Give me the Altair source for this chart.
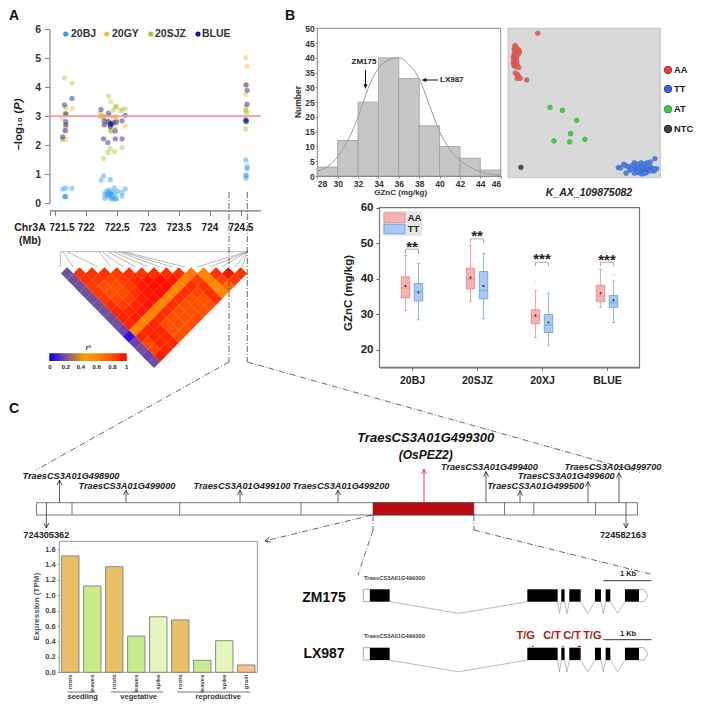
import altair as alt
import pandas as pd

W, H = 686, 693
FONT = "Liberation Sans"

# ---------- panel A values ----------
bj = [(721.62,.49),(721.67,.52),(721.77,.51),(721.65,.23),(721.67,.23),(721.66,.23),(722.24,.8),(722.28,.94),(722.39,.81),
      (722.30,.17),(722.32,.4),(722.36,.46),(722.38,.29),(722.41,.4),(722.45,.52),(722.43,.23),(722.47,.34),(722.49,.15),
      (722.51,.42),(722.34,.31),(722.30,.31),(722.58,.25),(722.58,.37),(722.63,.5),(722.40,.17),(722.47,.17),(722.35,.23),(722.43,.14),
      (722.37,.36),(722.39,.34),(722.41,.3),(724.58,1.49),(724.60,1.26),(724.60,1.19),(724.58,.97),(724.58,.86),(724.59,.95)]
gy = [(721.61,2.92),(721.77,3.26),(721.67,2.64),(721.67,2.52),(721.67,2.2),(721.62,2.2),(721.66,3.1),
      (722.40,3.5),(722.23,3.1),(722.28,2.98),(722.33,2.92),(722.63,2.66),(722.55,3.2),(722.47,2.64),(722.41,2.52),(722.39,3.03),
      (722.31,2.73),(722.49,2.87),(722.25,3.04),(722.36,2.8),(722.44,2.95),
      (724.58,5.01),(724.60,4.71),(724.58,3.75),(724.60,4.07),(724.58,3.33),(724.58,3.2)]
sjz = [(721.65,4.32),(721.77,4.14),(721.67,3.29),(721.62,2.2),(721.67,3.04),(722.36,3.69),(722.47,3.33),(722.49,3.33),(722.44,3.21),
       (722.63,3.26),(722.58,3.21),(722.39,1.89),(722.35,1.75),(722.46,1.78),(722.58,1.92),(722.28,1.54),(722.39,2.52),(722.41,2.46),
       (722.28,2.98),(722.23,2.98),(722.47,2.98),(724.58,3.21),(724.59,3.12),(724.58,2.56),(724.58,2.87)]
blue = [(721.77,3.61),(721.65,3.39),(721.67,3.08),(721.67,2.81),(721.67,2.7),(721.66,2.5),(721.62,2.29),(722.24,3.23),(722.36,3.10),
        (722.63,3.03),(722.29,2.84),(722.29,2.7),(722.36,2.81),(722.39,2.75),(722.41,2.73),(722.44,2.78),(722.49,2.79),(722.39,2.64),
        (722.58,2.84),(722.47,2.49),(722.28,2.22),(722.35,2.09),(722.47,2.22),(722.58,2.22),(722.39,2.7),(724.58,4.08),(724.60,3.89),
        (724.60,3.41),(724.58,2.87),(724.58,2.81),(724.59,2.84)]
ld_rows = [
    [.2,.2,.2,.2,.2,.2,.2,.2,.2,.16,.02,.15,.2,.15,.2],
    [.92,.92,.9,.88,.9,.93,.95,.95,.95,.62,.95,.85,.85,.97],
    [.92,.9,.82,.82,.84,.9,.95,.97,.62,.95,.95,.95,.95],
    [.92,.85,.82,.84,.88,.95,.97,.62,.95,.95,.95,.95],
    [.9,.9,.9,.92,.97,.98,.62,.93,.8,.8,.8],
    [.92,.95,.97,.98,.98,.62,.93,.8,.8,.8],
    [.92,.98,.99,.99,.62,.93,.8,.82,.82],
    [.93,.99,.99,.62,.93,.82,.82,.82],
    [.93,.98,.62,.93,.82,.8,.8],
    [.93,.65,.93,.85,.8,.8],
    [.68,.88,.92,.93,.93],
    [.62,.62,.58,.6],
    [.92,.85,.72],
    [.98,.9],
    [.92],
]
# ---------- panel B values ----------
hist_edges = [28,30,32,34,36,38,40,42,44,46]
hist_counts = [3,12,25,40,33,17,10,6,2]
curve_x = [28,29,30,31,32,33,34,35,36,37,38,39,40,41,42,43,44,45,46]
curve_y = [1.7,3.2,6.5,12,20,29.7,36.5,39.3,40,37.7,33,24,15,9,5.4,3,1.5,.7,.3]
aa = [(.046,.885),(.05,.875),(.04,.865),(.055,.87),(.048,.855),(.07,.855),(.075,.845),(.044,.85),(.055,.84),(.065,.835),(.072,.832),
      (.04,.825),(.05,.82),(.06,.815),(.035,.805),(.045,.8),(.055,.795),(.038,.79),(.048,.78),(.058,.775),(.034,.77),(.044,.76),
      (.054,.755),(.04,.75),(.05,.745),(.062,.75),(.07,.737),(.048,.7),(.062,.69),(.06,.665),(.068,.68),(.08,.665),(.123,.654),(.195,.967)]
at = [(.276,.471),(.357,.451),(.451,.384),(.411,.295),(.505,.257),(.302,.246),(.405,.239)]
ntc = [(.085,.069)]
tt = [(.724,.068),(.74,.065),(.76,.09),(.775,.08),(.79,.075),(.8,.05),(.81,.06),(.82,.085),(.83,.1),(.835,.07),(.84,.045),(.85,.06),
      (.855,.09),(.86,.035),(.865,.05),(.87,.07),(.875,.1),(.88,.04),(.885,.055),(.89,.03),(.895,.08),(.9,.065),(.905,.045),(.91,.035),
      (.915,.1),(.92,.06),(.93,.05),(.94,.07),(.95,.055),(.96,.045),(.976,.06),(.965,.127),(.775,.03),(.83,.03),(.85,.04),(.87,.03),
      (.88,.025),(.9,.03),(.86,.06),(.88,.07),(.9,.09),(.92,.08),(.935,.105),(.94,.045),(.96,.06)]
# group, low, q1, median, q3, high, mean
box_aa = [(-.1,31,34.6,37.3,40.5,46.5,37.9),(.9,33.6,37.1,39.8,42.9,49.4,40.3),(1.9,23.4,27.3,29.2,31.2,36.6,29.6),(2.9,31.9,33.5,35.1,38.1,42.6,35.9)]
box_tt = [(.1,28.4,33.7,36.4,38.6,44.3,36.1),(1.1,28.7,34.3,36.7,42,47,37.9),(2.1,21.1,24.8,26.9,29.9,35.9,27.6),(3.1,27.6,31.9,33.2,35.2,39.3,33.9)]
out_aa = [(1.9,42.6),(1.9,39.2)]
out_tt = [(3.1,41.1)]
brackets = [(-.1,.1,48.3,47,"**",49),(.9,1.1,51.2,50.1,"**",52),(1.9,2.1,44.6,43.5,"***",45.4),(2.9,3.1,44.6,43.5,"***",45.1)]
# ---------- panel C values ----------
expr = [1.51,1.12,1.37,.47,.72,.68,.155,.41,.095]
tissues = ["roots","leaves","roots","leaves","spike","roots","leaves","spike","grain"]
tissue_colors = {"roots":"#e9bf68","leaves":"#c8ec8c","spike":"#e4f6bd","grain":"#f7c08c"}
exons = [(.139,.549),(3.417,4.049),(4.125,4.194),(4.292,4.528),(4.826,4.951),(5.049,5.146),(5.451,5.743)]
introns = [(.549,3.417),(4.049,4.125),(4.194,4.292),(4.528,4.826),(4.951,5.049),(5.146,5.451)]
gene_dividers = [72,179.7,301,504.5,533.8,595.5]
up_genes = [("TraesCS3A01G498900",59.5,480,71,476),("TraesCS3A01G499000",126,490,127,485.7),("TraesCS3A01G499100",240,490,242,485.7),
            ("TraesCS3A01G499200",338,490,341,485.7),("TraesCS3A01G499400",486,471.7,489.4,466.7),("TraesCS3A01G499500",520,490.7,535.6,485.7),
            ("TraesCS3A01G499600",588,481.7,566.2,476),("TraesCS3A01G499700",619,472.7,613,466.7)]

# ---------- scales (figure pixels to plot range) ----------
def S(d, r):
    return alt.Scale(domain=d, range=r, nice=False, zero=False)
FX = S([0,702],[-8,694]); FY = S([0,709],[-8,701])
AX = S([721.41,724.82],[41.7,252.7]); AY = S([0,6],[195.3,21])
LX = S([0,14],[59.2,232.8]); LY = S([0,14],[265.5,353.7])
HX = S([28,46],[309.3,492.7]); HY = S([0,50],[168,20.3])
GX = S([0,1],[500,652.3]); GY = S([0,1],[169.7,20.3])
BX = S([-.5,3.5],[371.5,631.5]); BY = S([15,60],[359.3,199.6])
EX = S([-.5,8.5],[51.3,249.3]); EY = S([0,1.7],[664.3,533.3])
KX = S([0,6],[355.3,643.3])

layers = []
def seg(rows, X=FX, Y=FY, **mk):
    df = pd.DataFrame(rows, columns=["a","b","c","d"])
    layers.append(alt.Chart(df).mark_rule(**mk).encode(
        x=alt.X("a:Q",scale=X,axis=None), x2="c:Q", y=alt.Y("b:Q",scale=Y,axis=None), y2="d:Q"))
def box(rows, X=FX, Y=FY, **mk):
    df = pd.DataFrame(rows, columns=["a","b","c","d"])
    layers.append(alt.Chart(df).mark_rect(**mk).encode(
        x=alt.X("a:Q",scale=X,axis=None), x2="c:Q", y=alt.Y("b:Q",scale=Y,axis=None), y2="d:Q"))
def pts(rows, X=FX, Y=FY, **mk):
    df = pd.DataFrame(rows, columns=["a","b"])
    layers.append(alt.Chart(df).mark_point(**mk).encode(
        x=alt.X("a:Q",scale=X,axis=None), y=alt.Y("b:Q",scale=Y,axis=None)))
def txt(rows, X=FX, Y=FY, size=9, weight="bold", color="#222", align="center", angle=None, style="normal", font=FONT):
    df = pd.DataFrame(rows, columns=["a","b","t"])
    kw = dict(fontSize=size, fontWeight=weight, color=color, align=align, baseline="middle", fontStyle=style, font=font)
    if angle is not None:
        kw["angle"] = angle
    layers.append(alt.Chart(df).mark_text(**kw).encode(
        x=alt.X("a:Q",scale=X,axis=None), y=alt.Y("b:Q",scale=Y,axis=None), text="t:N"))
def xaxis(values, scale, ypx, **ax):
    opts = dict(title=None, orient="bottom", offset=(ypx-8)-H, values=values, grid=False, labelFont=FONT, labelFontWeight="bold")
    opts.update(ax)
    layers.append(alt.Chart(pd.DataFrame({"v":values})).mark_point(opacity=0).encode(
        x=alt.X("v:Q",scale=scale,axis=alt.Axis(**opts)), y=alt.value(0)))
def yaxis(values, scale, xpx, **ax):
    opts = dict(title=None, orient="left", offset=-(xpx-8), values=values, grid=False, labelFont=FONT, labelFontWeight="bold")
    opts.update(ax)
    layers.append(alt.Chart(pd.DataFrame({"v":values})).mark_point(opacity=0).encode(
        y=alt.Y("v:Q",scale=scale,axis=alt.Axis(**opts)), x=alt.value(0)))

UP = "M-1,2L0,0L1,2"; DOWN = "M-1,-2L0,0L1,-2"
TRI_D = "M-1,-2.4L0,0L1,-2.4Z"; TRI_L = "M2.4,-1L0,0L2.4,1Z"
DASH = dict(color="#444", strokeWidth=.8, strokeDash=[6,2,1,2])

# ---------- panel letters ----------
txt([(9,16,"A")], size=14, align="left", color="#111")
txt([(285,16,"B")], size=14, align="left", color="#111")
txt([(9,409,"C")], size=14, align="left", color="#111")

# ---------- panel A ----------
yaxis([0,1,2,3,4,5,6], AY, 49.5, labelFontSize=10.5, labelColor="#333", tickSize=5, tickColor="#888", domainColor="#888", domainWidth=1.2, labelPadding=4)
xaxis([721.41,721.5,722,722.5,723,723.5,724,724.5], AX, 210.3, labels=False, tickSize=5, tickColor="#777", domainColor="#777", domainWidth=1.2)
for series, col in ((bj,"#2f9df4"),(gy,"#f5b93e"),(sjz,"#97cc3c"),(blue,"#15158a")):
    pts(series, AX, AY, filled=True, size=28, opacity=.45, color=col)
seg([(721.41,3,724.82,3)], AX, AY, color="#f29aa4", strokeWidth=1.6)
for x, c in ((65.7,"#2f9df4"),(106.7,"#f5b93e"),(150.7,"#97cc3c"),(198,"#15158a")):
    pts([(x,34)], filled=True, size=26, opacity=1, color=c)
txt([(71,34,"20BJ"),(112,34,"20GY"),(155,34,"20SJZ"),(202,34,"BLUE")], size=10.5, align="left", color="#333")
txt([(19,110,"\u2013log\u2081\u2080 (")], size=11.5, align="right", angle=270, color="#222")
txt([(19,110,"P)")], size=11.5, align="left", angle=270, color="#222", style="italic")
txt([(30,228,"Chr3A"),(30,241,"(Mb)")], size=10.5, color="#222")
txt([(721.61,-.85,"721.5"),(722,-.85,"722"),(722.5,-.85,"722.5"),(723,-.85,"723"),(723.5,-.85,"723.5"),(724,-.85,"724"),(724.5,-.85,"724.5")],
    AX, AY, size=10, color="#222")

# LD lines and heatmap
ld_top = [(60.3,60.3),(63,73),(67,98),(99,111),(102,123),(108,136),(113,148),(118,160),(121,173),(124,185),(247.3,197),(247.3,210),(247.3,222),(247.3,235),(247.3,242)]
seg([(60.3,251.7,247.3,251.7)]+[(a,251.7,b,267) for a,b in ld_top], color="#8a8a8a", strokeWidth=.6)
ld = []
for i, row in enumerate(ld_rows):
    for k, v in enumerate(row):
        ld.append({"m": i + k/2, "k": k, "r2": v})
layers.append(alt.Chart(pd.DataFrame(ld)).mark_point(shape="diamond", filled=True, size=160, opacity=1).encode(
    x=alt.X("m:Q",scale=LX,axis=None), y=alt.Y("k:Q",scale=LY,axis=None),
    color=alt.Color("r2:Q",legend=None,scale=alt.Scale(domain=[0,.2,.45,.6,.8,1],range=["#0000ff","#70509a","#f2a100","#ff8a00","#ff5200","#ff0000"]))))
box([(49.3,353.3,126.7,361)], color={"gradient":"linear","x1":0,"x2":1,"y1":0,"y2":0,"stops":[
    {"offset":0,"color":"#0000ff"},{"offset":.2,"color":"#70509a"},{"offset":.45,"color":"#f2a100"},{"offset":.6,"color":"#ff8a00"},{"offset":.8,"color":"#ff5200"},{"offset":1,"color":"#ff0000"}]})
txt([(50,367,"0"),(66,367,"0.2"),(81,367,"0.4"),(96.7,367,"0.6"),(112.3,367,"0.8"),(126.7,367,"1")], size=6, color="#222")
txt([(88.3,348,"r\u00b2")], size=7, style="italic", color="#222")

# connectors
seg([(229,192,229,362),(229,362,36,470),(247.3,192,247.3,362),(247.3,362,640,472.5)], **DASH)

# ---------- panel B histogram ----------
box([(28,50,46,0)], HX, HY, fill="white", stroke="#8a8a8a", strokeWidth=1)
box([(hist_edges[i],hist_counts[i],hist_edges[i+1],0) for i in range(9)], HX, HY, fill="#c6c6c6", stroke="#9c9c9c", strokeWidth=.8)
layers.append(alt.Chart(pd.DataFrame({"a":curve_x,"b":curve_y})).mark_line(color="#9a9a9a",strokeWidth=1,interpolate="monotone").encode(
    x=alt.X("a:Q",scale=HX,axis=None), y=alt.Y("b:Q",scale=HY,axis=None)))
yaxis(list(range(0,51,5)), HY, 317.3, labelFontSize=8.5, labelColor="#333", tickSize=2, tickColor="#777", domainColor="#777", labelPadding=1)
xaxis(hist_edges, HX, 176, labelFontSize=8.5, labelColor="#333", tickSize=2, tickColor="#777", domainColor="#777", labelPadding=1)
txt([(400.7,193,"GZnC (mg/kg)")], size=8, color="#333")
txt([(298,102,"Number")], size=8.5, angle=270, color="#333")
txt([(364,62,"ZM175")], size=8, color="#222")
txt([(440,80,"LX987")], size=8, align="left", color="#222")
seg([(365.5,70,365.5,86),(438,80,424,80)], color="#111", strokeWidth=1)
pts([(365.5,89)], shape=TRI_D, filled=True, size=16, color="#111", opacity=1)
pts([(421.5,80)], shape=TRI_L, filled=True, size=16, color="#111", opacity=1)

# ---------- panel B genotype cloud ----------
box([(0,1,1,0)], GX, GY, fill="#d9d9d9", stroke="#c4c4c4", strokeWidth=1)
for s, c, st in ((aa,"#e4625a","#c94b44"),(at,"#45c645","#2fa82f"),(ntc,"#4a4a4a","#333"),(tt,"#4f7fe6","#3660c8")):
    pts(s, GX, GY, filled=True, size=22, color=c, stroke=st, strokeWidth=.6, opacity=.95)
for y, c, st in ((70,"#e8413c","#b52a25"),(89,"#3b62e0","#2440a8"),(109.3,"#45c645","#2a9a2a"),(129,"#444","#222")):
    pts([(668,y)], filled=True, size=55, color=c, stroke=st, strokeWidth=1, opacity=1)
txt([(674,70,"AA"),(674,89,"TT"),(674,109.3,"AT"),(674,129,"NTC")], size=9.3, align="left", color="#222")
txt([(589,193,"K_AX_109875082")], size=10.5, style="italic", color="#222")

# ---------- panel B boxplots ----------
box([(-.5,60,3.5,15)], BX, BY, fill="white", stroke="#777", strokeWidth=1.2)
yaxis([20,30,40,50,60], BY, 380, labelFontSize=11.5, labelColor="#222", tickSize=4, tickColor="#666", domainColor="#666", domainWidth=1.4, labelPadding=3)
xaxis([0,1,2,3], BX, 367.3, labelFontSize=10.5, labelColor="#222", tickSize=3, tickColor="#666", domainColor="#666", domainWidth=1.4, labelPadding=5,
      labelExpr="['20BJ','20SJZ','20XJ','BLUE'][datum.value]")
txt([(349,293,"GZnC (mg/kg)")], size=11.5, angle=270, color="#222")
for rows, outs, fill, line in ((box_aa,out_aa,"#f6b3b6","#ee8d92"),(box_tt,out_tt,"#a9cbf2","#74a8e6")):
    seg([(r[0],r[1],r[0],r[2]) for r in rows]+[(r[0],r[4],r[0],r[5]) for r in rows], BX, BY, color=line, strokeWidth=.8)
    seg([(r[0]-.025,r[1],r[0]+.025,r[1]) for r in rows]+[(r[0]-.025,r[5],r[0]+.025,r[5]) for r in rows], BX, BY, color=line, strokeWidth=.8)
    box([(r[0]-.065,r[4],r[0]+.065,r[2]) for r in rows], BX, BY, fill=fill, stroke=line, strokeWidth=1)
    seg([(r[0]-.065,r[3],r[0]+.065,r[3]) for r in rows], BX, BY, color=line, strokeWidth=1)
    pts([(r[0],r[6]) for r in rows], BX, BY, filled=True, size=4, color="#222", opacity=1)
    pts(outs, BX, BY, filled=True, size=4, color=line, opacity=.4)
seg([(b[0],b[2],b[1],b[2]) for b in brackets]+[(b[0],b[2],b[0],b[3]) for b in brackets]+[(b[1],b[2],b[1],b[3]) for b in brackets], BX, BY, color="#8a8a8a", strokeWidth=.7)
txt([((b[0]+b[1])/2,b[5],b[4]) for b in brackets], BX, BY, size=15, color="#222")
box([(382.7,211,422.3,235.7)], fill="#e6e6e6")
box([(384,213,405,222.7)], fill="#f6b3b6", stroke="#ee8d92", strokeWidth=1)
box([(384,224.3,405,233.7)], fill="#a9cbf2", stroke="#74a8e6", strokeWidth=1)
txt([(407.7,218,"AA"),(407.7,229,"TT")], size=9.5, align="left", color="#222")

# ---------- panel C gene bar ----------
box([(36.5,502.7,637.4,515)], fill="white", stroke="#555", strokeWidth=.8)
seg([(x,502.7,x,515) for x in gene_dividers], color="#555", strokeWidth=.8)
box([(373,502.7,473.9,515)], fill="#bd0a12", stroke="#444", strokeWidth=.6)
seg([(g[1],g[2],g[1],502.7) for g in up_genes], color="#333", strokeWidth=.8)
pts([(g[1],g[2]) for g in up_genes], shape=UP, size=25, color="#222", strokeWidth=.8, opacity=1)
seg([(424,469,424,502.7)], color="#d8334a", strokeWidth=.9)
pts([(424,469)], shape=UP, size=25, color="#d8334a", strokeWidth=.9, opacity=1)
seg([(46.4,502.7,46.4,528),(626,502.7,626,528)], color="#333", strokeWidth=.8)
pts([(46.4,528),(626,528)], shape=DOWN, size=25, color="#222", strokeWidth=.8, opacity=1)
txt([(g[3],g[4],g[0]) for g in up_genes], size=9.2, style="italic", color="#222")
txt([(425.7,438,"TraesCS3A01G499300")], size=13, style="italic", color="#111")
txt([(425.7,455,"(OsPEZ2)")], size=12, style="italic", color="#111")
txt([(46.3,535,"724305362"),(623,535,"724582163")], size=9.2, color="#222")
seg([(372,515,265,541),(373,515,373,530),(373,530,358,575),(473.9,515,473.9,530),(473.9,530,652,574.5)], **DASH)
pts([(265,541)], shape="M2,-1L0,0L2,1", size=25, angle=346, color="#222", strokeWidth=.8, opacity=1)

# ---------- panel C expression ----------
box([(-.5,1.7,8.5,0)], EX, EY, fill="white", stroke="#999", strokeWidth=1)
edf = pd.DataFrame({"i":list(range(9)),"v":expr,"t":tissues})
edf["lo"] = edf["i"]-.395; edf["hi"] = edf["i"]+.395
layers.append(alt.Chart(edf).mark_rect(stroke="#888",strokeWidth=1).encode(
    x=alt.X("lo:Q",scale=EX,axis=None), x2="hi:Q", y=alt.Y("v:Q",scale=EY,axis=None), y2=alt.datum(0),
    fill=alt.Fill("t:N",legend=None,scale=alt.Scale(domain=list(tissue_colors),range=list(tissue_colors.values())))))
yaxis([0,.2,.4,.6,.8,1,1.2,1.4,1.6], EY, 59.3, labelFontSize=7.5, labelColor="#444", tickSize=2, tickColor="#888", domainColor="#888", format=".1f", labelPadding=2)
txt([(37.3,606.7,"Expression (TPM)")], size=8, angle=270, color="#555")
layers.append(alt.Chart(edf).mark_text(angle=270,align="right",baseline="middle",fontSize=6,fontWeight="bold",font=FONT,color="#444").encode(
    x=alt.X("i:Q",scale=EX,axis=None), y=alt.Y("b:Q",scale=FY,axis=None), text="t:N").transform_calculate(b="674.5"))
seg([(67.7,692,95.7,692),(111,692,163.3,692),(177.3,692,250.3,692)], color="#555", strokeWidth=.8)
txt([(82.7,696.8,"seedling"),(138.7,696.8,"vegetative"),(218.3,696.8,"reproductive")], size=7.5, color="#333")

# ---------- panel C gene models ----------
for base, lab, laby, titley, bar_y, kb_y in ((589.3,"ZM175",597.7,577.7,580.7,574.3),(647.7,"LX987",654,636,639.7,634)):
    top, bot = base, base+12.4
    box([(0,top,.139,bot)], KX, FY, fill="white", stroke="#999", strokeWidth=.8)
    seg([(5.743,top,5.847,top),(5.847,top,5.93,(top+bot)/2),(5.93,(top+bot)/2,5.847,bot),(5.847,bot,5.743,bot)], KX, FY, color="#999", strokeWidth=.8)
    seg([(a,bot,(a+b)/2,bot+11.7) for a,b in introns]+[((a+b)/2,bot+11.7,b,bot) for a,b in introns], KX, FY, color="#aaa", strokeWidth=.8)
    box([(a,top,b,bot) for a,b in exons], KX, FY, fill="#000")
    seg([(5,bar_y,6,bar_y)], KX, FY, color="#333", strokeWidth=1)
    txt([(628,kb_y,"1 Kb")], size=7.5, color="#222")
    txt([(364,titley,"TraesCS3A01G499300")], size=5.8, align="left", color="#444")
    txt([(324,laby,lab)], size=14, color="#111")
txt([(525.7,636.3,"T/G"),(552,636.3,"C/T"),(572,636.3,"C/T"),(592.3,636.3,"T/G")], size=11, color="#b01c22")
box([(532,645.7,533.5,647),(562,645.7,563.5,647),(577.5,645.7,581,647)], fill="#c8202a")

chart = alt.layer(*layers).resolve_scale(x="independent", y="independent").properties(
    width=W, height=H, padding=0, autosize="none"
).configure_view(stroke=None)
chart.save("out.html", embed_options={"renderer":"svg","actions":False})
